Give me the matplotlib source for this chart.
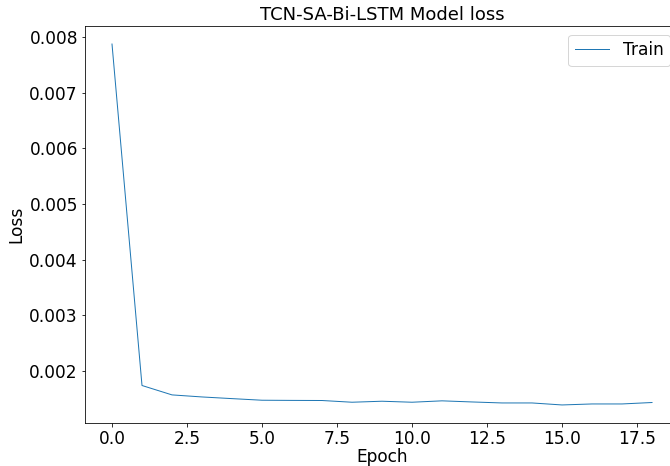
import matplotlib
matplotlib.use('Agg')
import matplotlib.pyplot as plt

epochs = list(range(19))
train_loss = [0.007879, 0.001736, 0.001567, 0.00153, 0.0015, 0.001471, 0.001468, 0.001466,
              0.001435, 0.001453, 0.001435, 0.00146, 0.00144, 0.001422, 0.001422, 0.001386,
              0.001404, 0.001404, 0.00143]

plt.rcParams['font.size'] = 17

fig = plt.figure(figsize=(670 / 72, 466 / 72), dpi=72)
# the original image is cropped on the right, so the axes run past the figure edge
ax = fig.add_axes([85 / 670, 43 / 466, 594 / 670, 397 / 466])
ax.plot(epochs, train_loss, color='#1f77b4', linewidth=1.0, label='Train')
ax.set_title('TCN-SA-Bi-LSTM Model loss', fontsize=18)
ax.set_xlabel('Epoch', labelpad=0)
ax.set_ylabel('Loss')
ax.legend(loc='upper right')

fig.savefig('out.png', dpi=72)
